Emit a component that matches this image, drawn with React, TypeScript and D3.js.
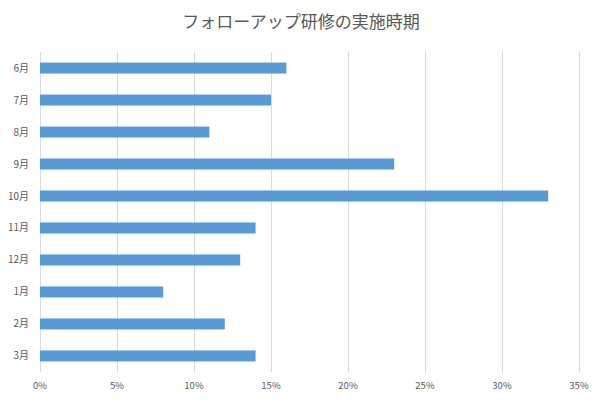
import React from "react";
import * as d3 from "d3";

const categories = ["6月", "7月", "8月", "9月", "10月", "11月", "12月", "1月", "2月", "3月"];
const values = [16, 15, 11, 23, 33, 14, 13, 8, 12, 14];
const xTicks = [0, 5, 10, 15, 20, 25, 30, 35];
const title = "フォローアップ研修の実施時期";

export default function App() {
  const W = 600, H = 400;
  const left = 40, right = 579, top = 52, bottom = 372;
  const x = d3.scaleLinear().domain([0, 35]).range([left, right]);
  const y = d3.scaleBand().domain(categories).range([top, bottom]).paddingInner(0.655).paddingOuter(0.33);
  const font = "'Noto Sans CJK JP', 'Noto Sans', sans-serif";
  return (
    <div style={{ position: "absolute", left: 0, top: 0 }}>
      <svg width={W} height={H} style={{ display: "block", background: "#fff" }}>
        <rect width={W} height={H} fill="#fff" />
        <text x={301} y={28} textAnchor="middle" fontFamily={font} fontSize={17} fill="#595959">{title}</text>
        {xTicks.map(t => (
          <g key={t}>
            <line x1={Math.round(x(t)) + 0.5} x2={Math.round(x(t)) + 0.5} y1={top} y2={bottom} stroke="#d9d9d9" strokeWidth={1} />
            <text x={x(t)} y={389} textAnchor="middle" fontFamily={font} fontSize={9.5} fill="#595959">{t}%</text>
          </g>
        ))}
        {categories.map((c, i) => (
          <g key={c}>
            <rect x={x(0)} y={y(c)!} width={x(values[i]) - x(0)} height={y.bandwidth()} fill="#5b9bd5" />
            <text x={29} y={y(c)! + y.bandwidth() / 2} dy="0.35em" textAnchor="end" fontFamily={font} fontSize={10} fill="#595959">{c}</text>
          </g>
        ))}
      </svg>
    </div>
  );
}
